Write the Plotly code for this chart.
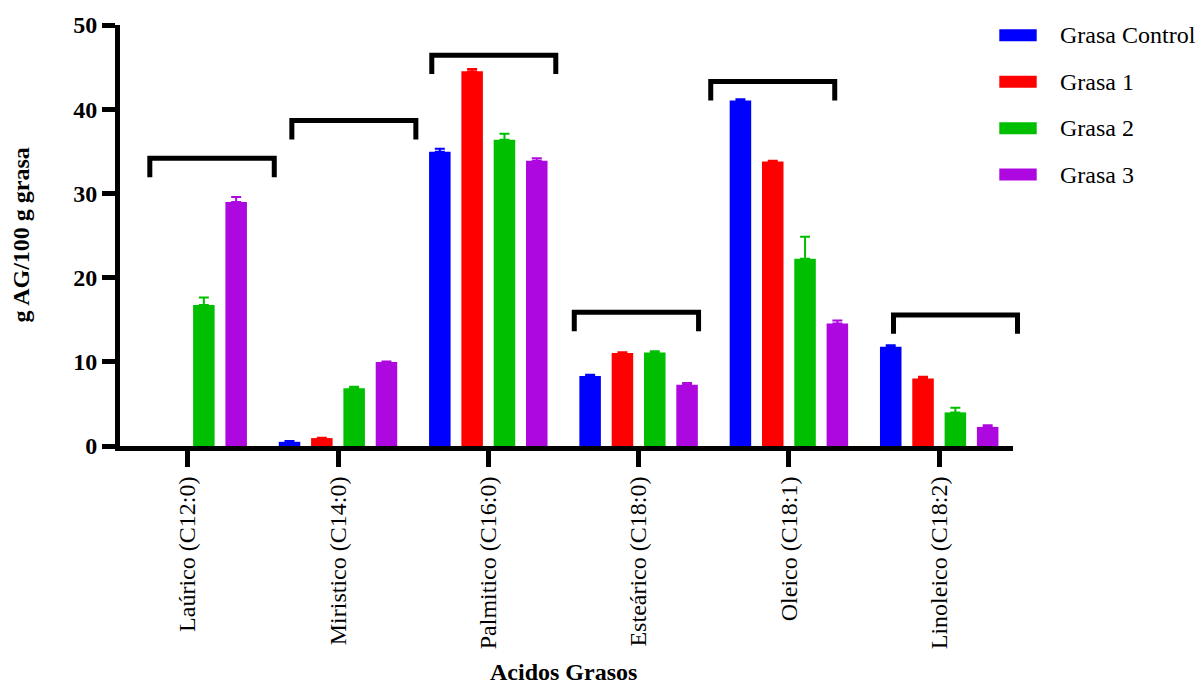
import plotly.graph_objects as go

# Fatty acid profile (g AG / 100 g grasa), mean values and upper error
acidos = ["Laúrico (C12:0)", "Miristico (C14:0)", "Palmitico (C16:0)",
          "Esteárico (C18:0)", "Oleico (C18:1)", "Linoleico (C18:2)"]

series_names = ["Grasa Control", "Grasa 1", "Grasa 2", "Grasa 3"]
series_colors = ["#0000FF", "#FF0000", "#00BF00", "#AD08E0"]

grasa_control = [0.0, 0.5, 34.96, 8.30, 41.04, 11.78]
grasa_1 = [0.0, 0.94, 44.52, 11.04, 33.79, 8.02]
grasa_2 = [16.75, 6.85, 36.37, 11.11, 22.24, 3.99]
grasa_3 = [28.97, 9.98, 33.87, 7.28, 14.56, 2.27]

err_control = [0.0, 0.1, 0.35, 0.15, 0.15, 0.2]
err_1 = [0.0, 0.05, 0.25, 0.1, 0.1, 0.2]
err_2 = [0.9, 0.2, 0.7, 0.15, 2.6, 0.55]
err_3 = [0.6, 0.05, 0.3, 0.2, 0.35, 0.2]

# Group brackets drawn over each fatty acid (category units / y units)
bracket_x0 = [-0.252, 0.693, 1.624, 2.572, 3.480, 4.696]
bracket_x1 = [0.576, 1.518, 2.449, 3.399, 4.305, 5.521]
bracket_y = [34.16, 38.66, 46.42, 15.87, 43.29, 15.57]
bracket_drop = 2.25

Y_MAX = 50
X_RANGE = [-0.4504, 5.491]

values = [grasa_control, grasa_1, grasa_2, grasa_3]
errors = [err_control, err_1, err_2, err_3]

FONT = "Liberation Serif"
W, H = 1201, 684
M_L, M_R, M_T, M_B = 120, 188, 23, 238
PLOT_W = W - M_L - M_R
PLOT_H = H - M_T - M_B


def px_to_paper_x(px):
    return (px - M_L) / PLOT_W


def px_to_paper_y(py):
    return (H - M_B - py) / PLOT_H


def data_to_paper_x(x):
    return (x - X_RANGE[0]) / (X_RANGE[1] - X_RANGE[0])


def data_to_paper_y(y):
    return y / Y_MAX


fig = go.Figure()
xpos = list(range(len(acidos)))
for name, color, vals, errs in zip(series_names, series_colors, values, errors):
    # acids not detected (0) are left empty so no error cap sits on the axis
    shown = [v if v > 0 else None for v in vals]
    fig.add_trace(go.Bar(
        x=xpos, y=shown, name=name,
        marker=dict(color=color, line=dict(width=0)),
        error_y=dict(type="data", array=errs, arrayminus=[0] * len(errs),
                     symmetric=False, color=color, thickness=2, width=5),
        showlegend=False,
    ))

shapes = []
for x0, x1, yt in zip(bracket_x0, bracket_x1, bracket_y):
    px0, px1 = data_to_paper_x(x0), data_to_paper_x(x1)
    pyt, pyb = data_to_paper_y(yt), data_to_paper_y(yt - bracket_drop)
    shapes.append(dict(
        type="path", xref="paper", yref="paper",
        path=f"M {px0},{pyb} L {px0},{pyt} L {px1},{pyt} L {px1},{pyb}",
        line=dict(color="black", width=5), layer="above",
    ))

# Legend built from colour swatches and labels
annotations = []
legend_rows = [33.3, 80.0, 126.7, 173.3]
for name, color, cy in zip(series_names, series_colors, legend_rows):
    shapes.append(dict(
        type="rect", xref="paper", yref="paper",
        x0=px_to_paper_x(999.3), x1=px_to_paper_x(1036.7),
        y0=px_to_paper_y(cy + 6), y1=px_to_paper_y(cy - 6),
        fillcolor=color, line=dict(width=0),
    ))
    annotations.append(dict(
        text=name, xref="paper", yref="paper",
        x=px_to_paper_x(1058), y=px_to_paper_y(cy),
        xanchor="left", yanchor="middle", showarrow=False,
        font=dict(family=FONT, size=24, color="black"),
    ))

annotations.append(dict(
    text="<b>g AG/100 g grasa</b>", xref="paper", yref="paper",
    x=px_to_paper_x(20), y=0.5, textangle=-90,
    xanchor="center", yanchor="middle", showarrow=False,
    font=dict(family=FONT, size=24, color="black"),
))
annotations.append(dict(
    text="<b>Acidos Grasos</b>", xref="paper", yref="paper",
    x=px_to_paper_x(563), y=px_to_paper_y(673),
    xanchor="center", yanchor="middle", showarrow=False,
    font=dict(family=FONT, size=24, color="black"),
))

fig.update_layout(
    width=W, height=H,
    margin=dict(l=M_L, r=M_R, t=M_T, b=M_B, pad=0),
    paper_bgcolor="white", plot_bgcolor="white",
    font=dict(family=FONT, color="black"),
    barmode="group", bargap=0.14, bargroupgap=0.334,
    shapes=shapes, annotations=annotations,
    xaxis=dict(
        range=X_RANGE, tickmode="array", tickvals=xpos, ticktext=acidos,
        tickangle=-90, ticks="outside", ticklen=16, tickwidth=5,
        tickcolor="black", showline=True, linecolor="black", linewidth=5,
        showgrid=False, zeroline=False,
        tickfont=dict(family=FONT, size=24, color="black"),
    ),
    yaxis=dict(
        range=[0, Y_MAX], tickmode="linear", tick0=0, dtick=10,
        ticks="outside", ticklen=13, tickwidth=5, tickcolor="black",
        showline=True, linecolor="black", linewidth=5,
        showgrid=False, zeroline=False,
        tickfont=dict(family=FONT, size=24, color="black"),
        tickprefix="<b>", ticksuffix="</b>",
    ),
)

fig.write_html("out.html")
